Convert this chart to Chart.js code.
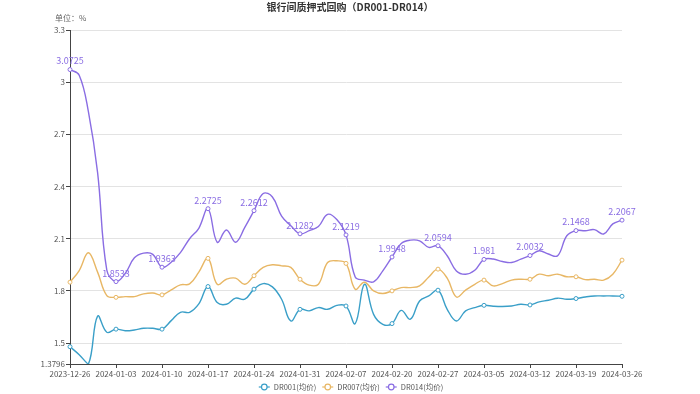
<!DOCTYPE html>
<html>
<head>
<meta charset="utf-8">
<script src="https://cdn.jsdelivr.net/npm/chart.js@4.4.1/dist/chart.umd.min.js"></script>
<style>
  html, body { margin: 0; padding: 0; background: #fff; }
  #wrap { width: 700px; height: 394px; }
</style>
</head>
<body>
<div id="wrap"><canvas id="chart" width="700" height="394"></canvas></div>
<script>
const dates = [
  '2023-12-26', '2023-12-27', '2023-12-28', '2023-12-29', '2024-01-02',
  '2024-01-03', '2024-01-04', '2024-01-05', '2024-01-08', '2024-01-09',
  '2024-01-10', '2024-01-11', '2024-01-12', '2024-01-15', '2024-01-16',
  '2024-01-17', '2024-01-18', '2024-01-19', '2024-01-22', '2024-01-23',
  '2024-01-24', '2024-01-25', '2024-01-26', '2024-01-29', '2024-01-30',
  '2024-01-31', '2024-02-01', '2024-02-02', '2024-02-05', '2024-02-06',
  '2024-02-07', '2024-02-08', '2024-02-09', '2024-02-18', '2024-02-19',
  '2024-02-20', '2024-02-21', '2024-02-22', '2024-02-23', '2024-02-26',
  '2024-02-27', '2024-02-28', '2024-02-29', '2024-03-01', '2024-03-04',
  '2024-03-05', '2024-03-06', '2024-03-07', '2024-03-08', '2024-03-11',
  '2024-03-12', '2024-03-13', '2024-03-14', '2024-03-15', '2024-03-18',
  '2024-03-19', '2024-03-20', '2024-03-21', '2024-03-22', '2024-03-25',
  '2024-03-26'
];

const dr001 = [
  1.479, 1.433, 1.3796, 1.655, 1.562, 1.58, 1.571, 1.575, 1.585, 1.585,
  1.58, 1.629, 1.677, 1.677, 1.725, 1.825, 1.733, 1.723, 1.758, 1.752,
  1.81, 1.842, 1.823, 1.752, 1.627, 1.694, 1.685, 1.704, 1.694, 1.717,
  1.713, 1.612, 1.838, 1.665, 1.608, 1.612, 1.688, 1.637, 1.742, 1.771,
  1.804, 1.694, 1.627, 1.685, 1.704, 1.717, 1.712, 1.71, 1.713, 1.723,
  1.719, 1.737, 1.746, 1.758, 1.752, 1.756, 1.765, 1.771, 1.771, 1.771,
  1.769
];

const dr007 = [
  1.85, 1.917, 2.019, 1.908, 1.773, 1.763, 1.767, 1.767, 1.783, 1.788,
  1.777, 1.806, 1.835, 1.84, 1.908, 1.987, 1.838, 1.867, 1.873, 1.838,
  1.887, 1.935, 1.95, 1.944, 1.935, 1.867, 1.833, 1.838, 1.963, 1.973,
  1.958, 1.81, 1.85, 1.80, 1.785, 1.80, 1.819, 1.819, 1.829, 1.88,
  1.925, 1.873, 1.765, 1.804, 1.838, 1.862, 1.829, 1.842, 1.862, 1.867,
  1.867, 1.896, 1.887, 1.896, 1.881, 1.881, 1.865, 1.867, 1.862, 1.896,
  1.977
];

const dr014 = [
  3.0725, 3.04, 2.83, 2.48, 1.92, 1.8533, 1.90, 1.99, 2.017, 2.01,
  1.9363, 1.965, 2.02, 2.10, 2.16, 2.2725, 2.08, 2.15, 2.08, 2.165,
  2.2612, 2.36, 2.34, 2.23, 2.175, 2.1282, 2.146, 2.17, 2.24, 2.21,
  2.1219, 1.88, 1.862, 1.852, 1.915, 1.9948, 2.073, 2.092, 2.088, 2.05,
  2.0594, 2.002, 1.915, 1.896, 1.919, 1.981, 1.983, 1.969, 1.963, 1.983,
  2.0032, 2.031, 2.012, 2.002, 2.117, 2.1468, 2.146, 2.152, 2.127, 2.185,
  2.2067
];

const yTicks = [1.3796, 1.5, 1.8, 2.1, 2.4, 2.7, 3, 3.3];
const seriesNames = ['DR001(均价)', 'DR007(均价)', 'DR014(均价)'];
const seriesColors = ['#3a9fc8', '#e8b765', '#8a6de3'];

const FONT = '"Noto Sans CJK SC", "Noto Sans", sans-serif';

function makeSet(i, data) {
  return {
    label: seriesNames[i],
    data: data,
    borderColor: seriesColors[i],
    backgroundColor: '#fff',
    borderWidth: 1.4,
    tension: 0.4,
    pointRadius: ctx => ctx.dataIndex % 5 === 0 ? 2 : 0,
    pointBorderWidth: 1,
    pointBackgroundColor: '#fff',
    pointBorderColor: seriesColors[i],
    pointHoverRadius: 0
  };
}

// title, unit, purple value labels and bottom legend
const extras = {
  id: 'extras',
  afterDatasetsDraw(chart) {
    const ctx = chart.ctx;
    ctx.save();

    // value labels on DR014
    const meta = chart.getDatasetMeta(2);
    ctx.font = '9px ' + FONT;
    ctx.fillStyle = seriesColors[2];
    ctx.textAlign = 'center';
    ctx.textBaseline = 'bottom';
    meta.data.forEach((pt, i) => {
      if (i % 5 !== 0) return;
      ctx.fillText(String(dr014[i]), pt.x, pt.y - 4);
    });

    // title
    ctx.font = 'bold 10px ' + FONT;
    ctx.fillStyle = '#333';
    ctx.textBaseline = 'middle';
    ctx.fillText('银行间质押式回购（DR001-DR014）', 350, 7);

    // unit
    ctx.font = '8px ' + FONT;
    ctx.fillStyle = '#666';
    ctx.textAlign = 'left';
    ctx.fillText('单位：%', 55, 18);

    // legend
    ctx.font = '7.5px ' + FONT;
    const iconW = 11, gapIcon = 4, gapItem = 6;
    const widths = seriesNames.map(n => iconW + gapIcon + ctx.measureText(n).width);
    const total = widths.reduce((a, b) => a + b, 0) + gapItem * (widths.length - 1);
    let x = 351 - total / 2;
    const y = 387;
    seriesNames.forEach((n, i) => {
      ctx.strokeStyle = seriesColors[i];
      ctx.lineWidth = 1.2;
      ctx.beginPath();
      ctx.moveTo(x, y);
      ctx.lineTo(x + iconW, y);
      ctx.stroke();
      ctx.beginPath();
      ctx.arc(x + iconW / 2, y, 2.8, 0, Math.PI * 2);
      ctx.fillStyle = '#fff';
      ctx.fill();
      ctx.stroke();
      ctx.fillStyle = '#555';
      ctx.textAlign = 'left';
      ctx.fillText(n, x + iconW + gapIcon, y);
      x += widths[i] + gapItem;
    });

    ctx.restore();
  }
};

new Chart(document.getElementById('chart'), {
  type: 'line',
  data: {
    labels: dates,
    datasets: [makeSet(0, dr001), makeSet(1, dr007), makeSet(2, dr014)]
  },
  options: {
    responsive: false,
    animation: false,
    layout: { padding: { top: 30, left: 0, right: 78, bottom: 16 } },
    plugins: {
      legend: { display: false },
      title: { display: false },
      tooltip: { enabled: false }
    },
    scales: {
      x: {
        type: 'category',
        offset: false,
        afterFit: s => { s.height = 14; },
        grid: {
          display: true,
          drawOnChartArea: false,
          drawTicks: true,
          tickLength: 4,
          tickColor: '#444'
        },
        border: { display: true, color: '#444' },
        ticks: {
          autoSkip: false,
          maxRotation: 0,
          padding: 1,
          font: { family: FONT, size: 8 },
          color: '#555',
          callback: function (val, idx) {
            return idx % 5 === 0 ? dates[idx] : null;
          }
        }
      },
      y: {
        min: 1.3796,
        max: 3.3,
        afterFit: s => { s.width = 70; },
        afterBuildTicks: s => { s.ticks = yTicks.map(v => ({ value: v })); },
        grid: {
          color: '#e3e3e3',
          drawTicks: true,
          tickLength: 4,
          tickColor: '#444'
        },
        border: { display: true, color: '#444' },
        ticks: {
          padding: 1,
          font: { family: FONT, size: 8 },
          color: '#555',
          callback: v => String(v)
        }
      }
    }
  },
  plugins: [extras]
});
</script>
</body>
</html>
